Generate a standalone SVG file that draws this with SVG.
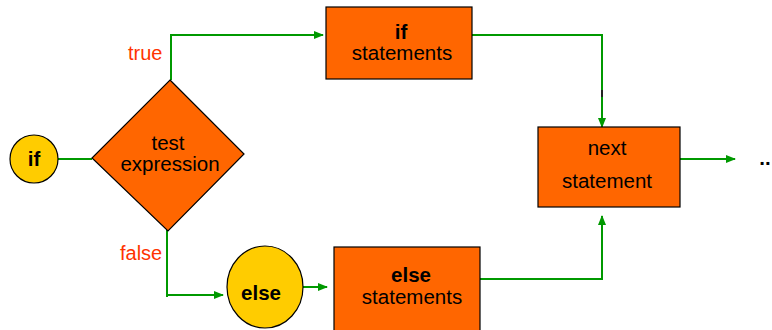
<svg xmlns="http://www.w3.org/2000/svg" width="772" height="330" viewBox="0 0 772 330">
<style>
.box{fill:#FF6600;stroke:#000;stroke-width:1.2}
.oval{fill:#FFCC00;stroke:#000;stroke-width:1.2}
.t{font-family:"Liberation Sans",Arial,sans-serif;font-size:20.5px;fill:#000;text-anchor:middle}
.b{font-weight:bold}
.lbl{font-family:"Liberation Sans",Arial,sans-serif;font-size:20px;fill:#FF3300}
.c{fill:none;stroke:#009900;stroke-width:2}
</style>
<defs>
<marker id="ah" markerWidth="10" markerHeight="8" refX="9" refY="4" orient="auto" markerUnits="userSpaceOnUse">
<path d="M0,0 L10,4 L0,8 Z" fill="#009900"/>
</marker>
</defs>
<g id="connectors">
<line class="c" x1="58" y1="159" x2="92" y2="159"/>
<polyline class="c" points="171,80 171,35 323,35" marker-end="url(#ah)"/>
<polyline class="c" points="472,35 602,35 602,127" marker-end="url(#ah)"/>
<rect x="601" y="90" width="2" height="7" fill="#222"/>
<line class="c" x1="680" y1="159" x2="735" y2="159" marker-end="url(#ah)"/>
<polyline class="c" points="167,230 167,297"/>
<line class="c" x1="167" y1="295" x2="223" y2="295" marker-end="url(#ah)"/>
<line class="c" x1="303" y1="287" x2="327" y2="287" marker-end="url(#ah)"/>
<polyline class="c" points="480,279 602,279 602,216" marker-end="url(#ah)"/>
<text class="lbl" x="128" y="60">true</text>
<text class="lbl" x="120" y="260">false</text>
</g>
<g id="if-start">
<circle class="oval" cx="34" cy="159" r="24"/>
<text class="t b" x="34" y="166">if</text>
</g>
<g id="test">
<polygon class="box" points="170,80 244,154 168,231 92,158"/>
<text class="t" x="168" y="150">test</text>
<text class="t" x="170" y="171">expression</text>
</g>
<g id="if-statements">
<rect class="box" x="326" y="7" width="146" height="72"/>
<text class="t b" x="401" y="39">if</text>
<text class="t" x="402" y="60">statements</text>
</g>
<g id="next">
<rect class="box" x="538" y="127" width="142" height="80"/>
<text class="t" x="607" y="155">next</text>
<text class="t" x="607" y="188">statement</text>
</g>
<g id="more">
<text class="t b" x="765" y="165">..</text>
</g>
<g id="else-node">
<ellipse class="oval" cx="265" cy="287" rx="38" ry="41"/>
<text class="t b" x="261" y="300">else</text>
</g>
<g id="else-statements">
<rect class="box" x="334" y="247" width="146" height="90"/>
<text class="t b" x="411" y="282">else</text>
<text class="t" x="412" y="304">statements</text>
</g>
</svg>
